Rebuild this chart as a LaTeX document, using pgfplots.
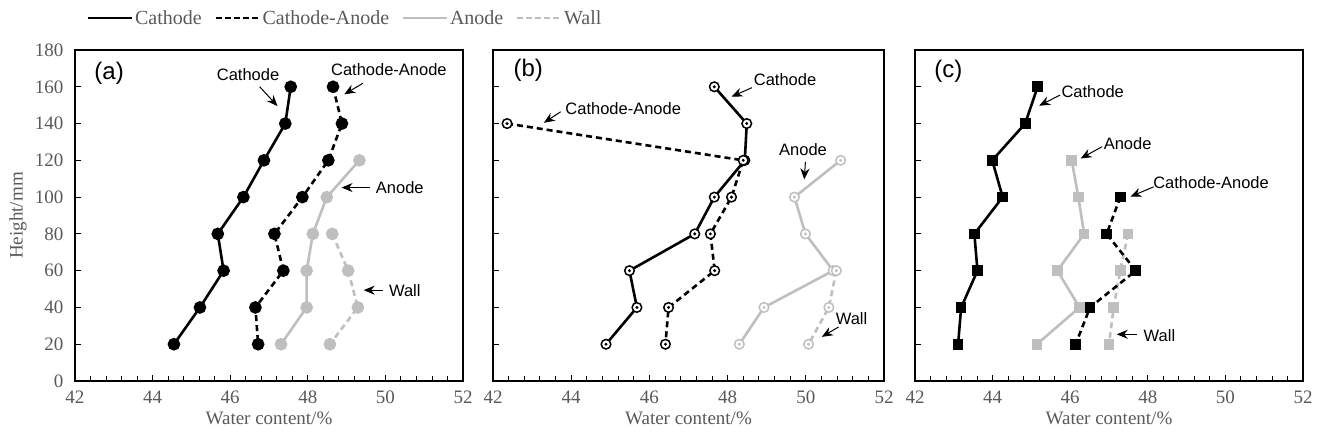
\documentclass[border=0pt]{standalone}
\usepackage{pgfplots}
\pgfplotsset{compat=1.18}
\usepackage{fontspec}
\setmainfont{Liberation Serif}
\setsansfont{Liberation Sans}
\usetikzlibrary{arrows.meta}
\definecolor{lg}{HTML}{BFBFBF}
\definecolor{tg}{HTML}{595959}
\pgfdeclareplotmark{odot}{%
  \pgfpathcircle{\pgfpointorigin}{\pgfplotmarksize}\pgfusepathqfillstroke
  \pgfpathcircle{\pgfpointorigin}{0.6pt}\pgfusepathqstroke}
\tikzset{
  ann/.style={font=\sffamily\fontsize{16.5}{18}\selectfont, text=black},
  tag/.style={font=\sffamily\fontsize{24}{26}\selectfont, text=black},
  arr/.style={-{Stealth[length=11pt,width=9pt]}, line width=1pt, black},
  blk/.style={black, line width=2.6pt},
  blkd/.style={black, line width=2.6pt, dash pattern=on 6pt off 4pt},
  gry/.style={lg, line width=2.6pt},
  gryd/.style={lg, line width=2.6pt, dash pattern=on 6pt off 4pt},
}
\pgfplotsset{
  panel/.style={
    scale only axis, width=388pt, height=331pt, anchor=south west,
    xmin=42, xmax=52, ymin=0, ymax=180,
    xtick={42,44,...,52}, ytick={0,20,...,180},
    minor x tick num=4,
    tick pos=left, tick align=inside,
    major tick length=6pt, minor tick length=5pt,
    every tick/.style={black, line width=0.9pt},
    axis line style={black, line width=1.1pt},
    /pgf/number format/assume math mode=true,
    ticklabel style={font=\fontsize{19}{21}\selectfont, text=tg},
    xticklabel style={yshift=-6pt},
    yticklabel style={xshift=-8pt},
    xlabel={Water content/\%},
    label style={font=\fontsize{19}{21}\selectfont, text=tg},
    xlabel style={at={(axis description cs:0.5,0)}, anchor=center, yshift=-37pt},
    clip=false,
  },
}
\begin{document}
\begin{tikzpicture}[x=1pt,y=1pt]
\path[use as bounding box] (0,0) rectangle (1320,440);
% ---------- (a)
\begin{axis}[panel, at={(75pt,59pt)},
  ylabel={Height/mm},
  ylabel style={at={(axis description cs:-0.147,0.5)}, anchor=center},
  legend columns=4,
  legend style={at={(axis description cs:0.030,1.0967)}, anchor=west,
    draw=none, fill=none, inner sep=0pt,
    font=\fontsize{20}{22}\selectfont, text=tg,
    nodes={inner sep=1.5pt},
    /tikz/every odd column/.append style={column sep=0pt},
    /tikz/every even column/.append style={column sep=11pt}},
  legend image code/.code={\draw[#1] (0pt,0pt) -- (44pt,0pt);},
]
\addlegendimage{black, line width=2.8pt}
\addlegendentry{Cathode}
\addlegendimage{black, line width=2.8pt, dash pattern=on 6pt off 3pt}
\addlegendentry{Cathode-Anode}
\addlegendimage{lg, line width=2.8pt}
\addlegendentry{Anode}
\addlegendimage{lg, line width=2.8pt, dash pattern=on 6pt off 3pt}
\addlegendentry{Wall}
\addplot[blk, forget plot, mark=*, mark size=5pt, mark options={solid}] coordinates {
 (47.56,160) (47.42,140) (46.87,120) (46.34,100) (45.68,80) (45.83,60) (45.22,40) (44.55,20)};
\addplot[blkd, forget plot, mark=*, mark size=5pt, mark options={solid}] coordinates {
 (48.65,160) (48.88,140) (48.53,120) (47.86,100) (47.14,80) (47.37,60) (46.65,40) (46.72,20)};
\addplot[gry, forget plot, mark=*, mark size=5pt, mark options={solid}] coordinates {
 (49.33,120) (48.49,100) (48.13,80) (47.97,60) (47.97,40) (47.31,20)};
\addplot[gryd, forget plot, mark=*, mark size=5pt, mark options={solid}] coordinates {
 (48.63,80) (49.04,60) (49.29,40) (48.57,20)};
\node[tag] at (axis cs:42.88,167.3) {(a)};
\node[ann] at (axis cs:46.46,166.4) {Cathode};
\draw[arr] (axis cs:46.76,160) -- (axis cs:47.22,149.5);
\node[ann] at (axis cs:50.09,169.5) {Cathode-Anode};
\draw[arr] (axis cs:49.42,161.9) -- (axis cs:48.94,155.9);
\node[ann] at (axis cs:50.37,105.2) {Anode};
\draw[arr] (axis cs:49.60,105.2) -- (axis cs:48.87,105.2);
\node[ann] at (axis cs:50.50,49.4) {Wall};
\draw[arr] (axis cs:49.94,49.4) -- (axis cs:49.44,49.4);
\end{axis}
% ---------- (b)
\begin{axis}[panel, at={(493pt,59pt)}, width=391pt, yticklabels={}]
\addplot[blk, mark=odot, mark size=4.8pt, mark options={solid, fill=white, line width=1.5pt}] coordinates {
 (47.66,160) (48.49,140) (48.44,120) (47.66,100) (47.16,80) (45.49,60) (45.68,40) (44.89,20)};
\addplot[blkd, mark=odot, mark size=4.8pt, mark options={solid, fill=white, line width=1.5pt}] coordinates {
 (42.36,140) (48.40,120) (48.10,100) (47.56,80) (47.67,60) (46.49,40) (46.41,20)};
\addplot[gry, mark=odot, mark size=4.8pt, mark options={solid, fill=white, line width=1.5pt}] coordinates {
 (50.89,120) (49.71,100) (49.99,80) (50.70,60) (48.93,40) (48.30,20)};
\addplot[gryd, mark=odot, mark size=4.8pt, mark options={solid, fill=white, line width=1.5pt}] coordinates {
 (50.78,60) (50.59,40) (50.07,20)};
\node[tag] at (axis cs:42.90,168.8) {(b)};
\node[ann] at (axis cs:49.47,163.7) {Cathode};
\draw[arr] (axis cs:48.62,159.5) -- (axis cs:48.10,154.6);
\node[ann] at (axis cs:45.33,148.2) {Cathode-Anode};
\draw[arr] (axis cs:43.73,146.4) -- (axis cs:43.30,140.4);
\node[ann] at (axis cs:49.93,125.6) {Anode};
\draw[arr] (axis cs:49.99,119.2) -- (axis cs:49.96,109.6);
\node[ann] at (axis cs:51.17,33.9) {Wall};
\draw[arr] (axis cs:50.84,29.4) -- (axis cs:50.41,24.0);
\end{axis}
% ---------- (c)
\begin{axis}[panel, at={(915pt,59pt)}, yticklabels={}]
\addplot[blk, mark=square*, mark size=4pt, mark options={solid}] coordinates {
 (45.16,160) (44.84,140) (43.99,120) (44.26,100) (43.53,80) (43.61,60) (43.19,40) (43.11,20)};
\addplot[gry, mark=square*, mark size=4pt, mark options={solid}] coordinates {
 (46.04,120) (46.21,100) (46.36,80) (45.67,60) (46.24,40) (45.14,20)};
\addplot[gryd, mark=square*, mark size=4pt, mark options={solid}] coordinates {
 (47.49,80) (47.29,60) (47.12,40) (47.00,20)};
\addplot[blkd, mark=square*, mark size=4pt, mark options={solid}] coordinates {
 (47.29,100) (46.94,80) (47.69,60) (46.51,40) (46.14,20)};
\node[tag] at (axis cs:42.86,168.2) {(c)};
\node[ann] at (axis cs:46.58,157.3) {Cathode};
\draw[arr] (axis cs:45.74,155.5) -- (axis cs:45.20,149.7);
\node[ann] at (axis cs:47.48,129.2) {Anode};
\draw[arr] (axis cs:46.82,127.4) -- (axis cs:46.27,121.0);
\node[ann] at (axis cs:49.63,108.0) {Cathode-Anode};
\draw[arr] (axis cs:48.15,105.6) -- (axis cs:47.55,100.2);
\node[ann] at (axis cs:48.30,24.9) {Wall};
\draw[arr] (axis cs:47.72,25.4) -- (axis cs:47.20,25.4);
\end{axis}
\end{tikzpicture}
\end{document}
